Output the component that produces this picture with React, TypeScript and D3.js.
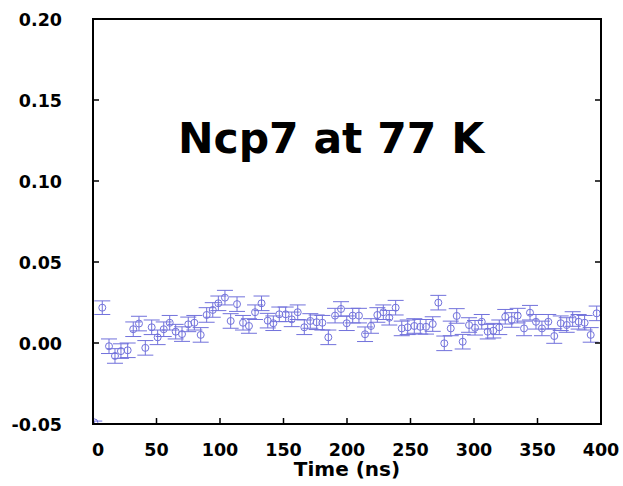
import React from "react";
import * as d3 from "d3";

// time (ns), value, error
const times = [1, 7.3, 12.6, 17.3, 22.0, 27.3, 31.7, 36.2, 41.2, 46.2, 50.9, 55.7, 60.4, 65.1, 70.1, 75.0, 79.8, 84.8, 89.5, 94.3, 98.7,
  103.9, 108.4, 113.4, 118.1, 122.8, 127.6, 132.7, 137.6, 142.0, 146.7, 151.7, 156.5, 161.2, 166.4, 171.1, 176.1, 180.6, 185.3,
  190.6, 195.3, 199.8, 204.5, 209.4, 214.2, 218.9, 223.9, 228.6, 233.3, 238.3, 243.1, 247.8, 253.0, 257.7, 262.2, 267.5, 271.9,
  276.6, 281.7, 286.4, 291.1, 296.1, 300.8, 306.1, 310.8, 315.2, 319.9, 324.6, 329.7, 334.4, 339.4, 344.1, 348.8, 353.5, 358.5,
  363.2, 368.3, 373.0, 377.7, 382.4, 387.1, 391.9, 396.6];
const values = [-0.049, 0.0218, -0.002, -0.008, -0.005, -0.0045, 0.0085, 0.012, -0.003, 0.0097, 0.0035, 0.0085, 0.0125, 0.007, 0.0055,
  0.0115, 0.0125, 0.005, 0.0173, 0.0204, 0.0245, 0.028, 0.0136, 0.024, 0.0125, 0.0105, 0.019, 0.0245, 0.0138, 0.0122, 0.0177,
  0.0177, 0.0146, 0.019, 0.0097, 0.0136, 0.0128, 0.0125, 0.0035, 0.0169, 0.021, 0.0122, 0.0169, 0.0169, 0.0054, 0.0105, 0.0173,
  0.019, 0.0156, 0.0218, 0.009, 0.0097, 0.0105, 0.01, 0.01, 0.0117, 0.0249, -0.0002, 0.009, 0.0167, 0.0008, 0.0111, 0.0094,
  0.0131, 0.007, 0.0076, 0.0097, 0.0162, 0.0142, 0.0169, 0.009, 0.0187, 0.0131, 0.009, 0.0131, 0.0043, 0.0122, 0.0111, 0.0148,
  0.0131, 0.0125, 0.005, 0.0183];
const errors = [0.0008, 0.0042, 0.0045, 0.0045, 0.0045, 0.0045, 0.0045, 0.0045, 0.0045, 0.0045, 0.0045, 0.0045, 0.0045, 0.0045,
  0.0045, 0.0045, 0.0045, 0.0045, 0.0045, 0.0045, 0.0045, 0.0045, 0.0045, 0.0045, 0.0045, 0.0045, 0.0045, 0.0045, 0.0045, 0.0045,
  0.0045, 0.0045, 0.0045, 0.0045, 0.0045, 0.0045, 0.0045, 0.0045, 0.0045, 0.0045, 0.0045, 0.0045, 0.0045, 0.0045, 0.0045, 0.0045,
  0.0045, 0.0045, 0.0045, 0.0045, 0.0045, 0.0045, 0.0045, 0.0045, 0.0045, 0.0045, 0.0045, 0.0045, 0.0045, 0.0045, 0.0045, 0.0045,
  0.0045, 0.0045, 0.0045, 0.0045, 0.0045, 0.0045, 0.0045, 0.0045, 0.0045, 0.0045, 0.0045, 0.0045, 0.0045, 0.0045, 0.0045, 0.0045,
  0.0045, 0.0045, 0.0045, 0.0045, 0.0045];

const xTicks = [0, 50, 100, 150, 200, 250, 300, 350, 400];
const yTicks = [-0.05, 0, 0.05, 0.1, 0.15, 0.2];

const W = 623, H = 486;
const m = { left: 93, right: 22, top: 19, bottom: 62 };
const font = "'DejaVu Sans', Verdana, sans-serif";
const blue = "#5a5ad6";

export default function App() {
  const x = d3.scaleLinear().domain([0, 400]).range([m.left, W - m.right]);
  const y = d3.scaleLinear().domain([-0.05, 0.2]).range([H - m.bottom, m.top]);
  const cap = 8;
  return (
    <svg width={W} height={H} style={{ position: "absolute", left: 0, top: 0, background: "#fff" }}>
      <defs>
        <clipPath id="plot">
          <rect x={m.left} y={m.top} width={W - m.left - m.right} height={H - m.top - m.bottom} />
        </clipPath>
      </defs>
      {/* error bars + open circles */}
      <g clipPath="url(#plot)" stroke={blue} strokeWidth={1} fill="none" opacity={0.85}>
        {times.map((t, i) => {
          const cx = x(t), cy = y(values[i]);
          const y1 = y(values[i] + errors[i]), y2 = y(values[i] - errors[i]);
          return (
            <g key={i}>
              <line x1={cx} x2={cx} y1={y1} y2={y2} />
              <line x1={cx - cap} x2={cx + cap} y1={y1} y2={y1} />
              <line x1={cx - cap} x2={cx + cap} y1={y2} y2={y2} />
              <circle cx={cx} cy={cy} r={3.5} />
            </g>
          );
        })}
      </g>
      <rect x={m.left} y={m.top} width={W - m.left - m.right} height={H - m.top - m.bottom}
        fill="none" stroke="#000" strokeWidth={2} />
      {xTicks.map(t => (
        <g key={"x" + t}>
          <line x1={x(t)} x2={x(t)} y1={y(-0.05)} y2={y(-0.05) - 6} stroke="#000" strokeWidth={1.5} />
          <text x={t === 0 ? x(t) + 5 : x(t)} y={456} textAnchor="middle" fontFamily={font} fontWeight="bold" fontSize={17.5}>{t}</text>
        </g>
      ))}
      {yTicks.map(v => (
        <g key={"y" + v}>
          <line x1={m.left} x2={m.left + 6} y1={y(v)} y2={y(v)} stroke="#000" strokeWidth={1.5} />
          <line x1={W - m.right} x2={W - m.right - 6} y1={y(v)} y2={y(v)} stroke="#000" strokeWidth={1.5} />
          <text x={62} y={y(v) + 6.5} textAnchor="end" fontFamily={font} fontWeight="bold" fontSize={17.5}>{v.toFixed(2)}</text>
        </g>
      ))}
      <text x={(m.left + W - m.right) / 2} y={476} textAnchor="middle" fontFamily={font} fontWeight="bold" fontSize={20}>Time (ns)</text>
      <text x={331} y={153} textAnchor="middle" fontFamily={font} fontWeight="bold" fontSize={42.5}>Ncp7 at 77 K</text>
    </svg>
  );
}
